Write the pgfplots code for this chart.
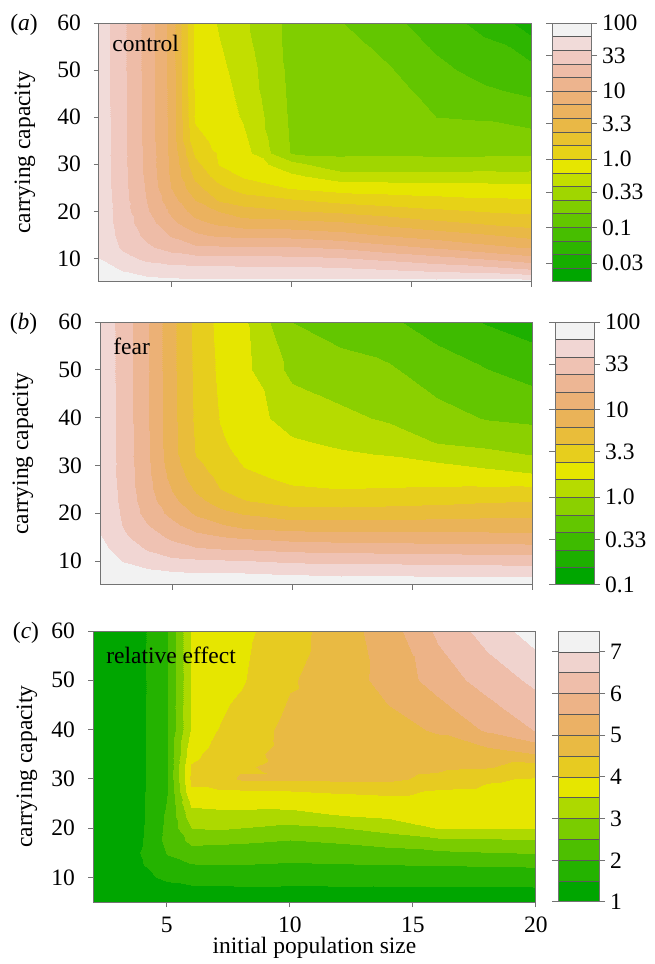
\documentclass[border=0pt]{standalone}
\usepackage{fontspec}
\setmainfont{Liberation Serif}
\usepackage{pgfplots}
\pgfplotsset{compat=1.18}

\pgfplotsset{
  colormap={terA}{rgb255=(0,166,0) rgb255=(22,174,0) rgb255=(45,182,0) rgb255=(71,190,0) rgb255=(99,198,0) rgb255=(128,206,0) rgb255=(160,214,0) rgb255=(194,222,0) rgb255=(230,230,0) rgb255=(231,210,23) rgb255=(232,195,46) rgb255=(233,184,70) rgb255=(235,178,94) rgb255=(236,177,118) rgb255=(237,180,142) rgb255=(238,188,167) rgb255=(240,201,192) rgb255=(241,219,217) rgb255=(242,242,242)},
  colormap={terB}{rgb255=(0,166,0) rgb255=(29,176,0) rgb255=(62,187,0) rgb255=(99,198,0) rgb255=(139,208,0) rgb255=(182,219,0) rgb255=(230,230,0) rgb255=(231,206,29) rgb255=(233,189,58) rgb255=(234,179,88) rgb255=(236,177,118) rgb255=(237,182,148) rgb255=(239,194,179) rgb255=(241,214,211) rgb255=(242,242,242)},
  colormap={terC}{rgb255=(0,166,0) rgb255=(36,179,0) rgb255=(77,191,0) rgb255=(122,204,0) rgb255=(173,217,0) rgb255=(230,230,0) rgb255=(231,203,33) rgb255=(233,186,67) rgb255=(235,177,101) rgb255=(237,179,135) rgb255=(239,190,170) rgb255=(240,211,206) rgb255=(242,242,242)},
  panel/.style={
    view={0}{90},
    scale only axis,
    xmin=2, xmax=20, ymin=5, ymax=60,
    enlargelimits=false,
    clip=false,
    xtick={5,10,15,20},
    ytick={10,20,30,40,50,60},
    yticklabels={10,20,30,40,50,60},
    xticklabels={},
    tick align=outside,
    tick pos=left,
    major tick length=2.5pt,
    axis line style={draw=black!55, line width=0.5pt},
    tick style={draw=black!55, line width=0.5pt},
    yticklabel style={xshift=-3pt},
    xticklabel style={yshift=-1.5pt},
    ylabel={carrying capacity},
    colorbar,
  },
  cbar/.style={
    at={(parent axis.north east)}, anchor=north west,
    axis line style={draw=black!55, line width=0.5pt},
    tick style={draw=black!55, line width=0.5pt},
    major tick length=3pt, tick align=outside,
    yticklabel style={xshift=-1pt},
    extra y tick labels={},
    extra y tick style={major tick length=0pt, grid=major,
      major grid style={draw=black!65, line width=0.35pt}},
    axis on top,
  },
}

\begin{document}
\begin{tikzpicture}[font=\fontsize{11.75}{14}\selectfont]

% (a) control
\begin{axis}[panel, at={(49.5pt,341pt)}, anchor=south west,
  width=216.5pt, height=129.5pt,
  colormap name=terA, point meta min=-1.8, point meta max=2,
  ylabel style={at={(axis description cs:-0.171,0.5)}, anchor=center},
  colorbar style={cbar, xshift=1.5pt, width=19.5pt,
    ytick={2,1.5185,1,0.5185,0,-0.4815,-1,-1.5229},
    yticklabels={100,33,10,3.3,1.0,0.33,0.1,0.03},
    extra y ticks={-1.6,-1.4,-1.2,-1,-0.8,-0.6,-0.4,-0.2,0,0.2,0.4,0.6,0.8,1,1.2,1.4,1.6,1.8}}]
\addplot3[contour filled={number=19}, mesh/cols=13] coordinates {
(2,5,1.95) (3,5,1.90) (4,5,1.88) (5,5,1.86) (6,5,1.85) (7,5,1.85) (8,5,1.85) (10,5,1.85) (12,5,1.86) (14,5,1.87) (16,5,1.88) (18,5,1.90) (20,5,1.90)
(2,7.5,1.88) (3,7.5,1.79) (4,7.5,1.71) (5,7.5,1.69) (6,7.5,1.68) (7,7.5,1.68) (8,7.5,1.67) (10,7.5,1.67) (12,7.5,1.65) (14,7.5,1.61) (16,7.5,1.56) (18,7.5,1.51) (20,7.5,1.42)
(2,10,1.80) (3,10,1.66) (4,10,1.55) (5,10,1.49) (6,10,1.46) (7,10,1.46) (8,10,1.45) (10,10,1.44) (12,10,1.41) (14,10,1.34) (16,10,1.26) (18,10,1.17) (20,10,1.06)
(2,12.5,1.77) (3,12.5,1.56) (4,12.5,1.43) (5,12.5,1.32) (6,12.5,1.23) (7,12.5,1.22) (8,12.5,1.22) (10,12.5,1.21) (12,12.5,1.16) (14,12.5,1.06) (16,12.5,0.97) (18,12.5,0.86) (20,12.5,0.77)
(2,15,1.76) (3,15,1.52) (4,15,1.35) (5,15,1.18) (6,15,1.04) (7,15,0.96) (8,15,0.95) (10,15,0.93) (12,15,0.87) (14,15,0.78) (16,15,0.70) (18,15,0.62) (20,15,0.53)
(2,17.5,1.75) (3,17.5,1.49) (4,17.5,1.29) (5,17.5,1.05) (6,17.5,0.86) (7,17.5,0.76) (8,17.5,0.69) (10,17.5,0.67) (12,17.5,0.63) (14,17.5,0.54) (16,17.5,0.45) (18,17.5,0.38) (20,17.5,0.32)
(2,20,1.75) (3,20,1.48) (4,20,1.22) (5,20,0.96) (6,20,0.72) (7,20,0.59) (8,20,0.48) (10,20,0.41) (12,20,0.36) (14,20,0.30) (16,20,0.24) (18,20,0.19) (20,20,0.16)
(2,22.5,1.75) (3,22.5,1.47) (4,22.5,1.19) (5,22.5,0.88) (6,22.5,0.60) (7,22.5,0.38) (8,22.5,0.30) (10,22.5,0.22) (12,22.5,0.14) (14,22.5,0.09) (16,22.5,0.06) (18,22.5,0.03) (20,22.5,0.02)
(2,25,1.74) (3,25,1.46) (4,25,1.17) (5,25,0.80) (6,25,0.47) (7,25,0.25) (8,25,0.11) (10,25,-0.01) (12,25,-0.08) (14,25,-0.09) (16,25,-0.11) (18,25,-0.12) (20,25,-0.13)
(2,27.5,1.74) (3,27.5,1.46) (4,27.5,1.15) (5,27.5,0.77) (6,27.5,0.35) (7,27.5,0.11) (8,27.5,-0.02) (10,27.5,-0.16) (12,27.5,-0.30) (14,27.5,-0.31) (16,27.5,-0.31) (18,27.5,-0.31) (20,27.5,-0.32)
(2,30,1.74) (3,30,1.45) (4,30,1.14) (5,30,0.76) (6,30,0.26) (7,30,-0.01) (8,30,-0.06) (10,30,-0.33) (12,30,-0.55) (14,30,-0.54) (16,30,-0.53) (18,30,-0.52) (20,30,-0.51)
(2,32.5,1.73) (3,32.5,1.45) (4,32.5,1.14) (5,32.5,0.75) (6,32.5,0.16) (7,32.5,-0.02) (8,32.5,-0.11) (10,32.5,-0.61) (12,32.5,-0.62) (14,32.5,-0.62) (16,32.5,-0.63) (18,32.5,-0.63) (20,32.5,-0.63)
(2,35,1.73) (3,35,1.45) (4,35,1.13) (5,35,0.74) (6,35,0.05) (7,35,-0.04) (8,35,-0.15) (10,35,-0.62) (12,35,-0.64) (14,35,-0.64) (16,35,-0.69) (18,35,-0.69) (20,35,-0.69)
(2,40,1.73) (3,40,1.45) (4,40,1.13) (5,40,0.74) (6,40,-0.02) (7,40,-0.08) (8,40,-0.22) (10,40,-0.63) (12,40,-0.68) (14,40,-0.69) (16,40,-0.80) (18,40,-0.82) (20,40,-0.90)
(2,50,1.72) (3,50,1.44) (4,50,1.12) (5,50,0.73) (6,50,-0.04) (7,50,-0.15) (8,50,-0.29) (10,50,-0.65) (12,50,-0.74) (14,50,-0.78) (16,50,-0.94) (18,50,-1.08) (20,50,-1.14)
(2,60,1.72) (3,60,1.44) (4,60,1.12) (5,60,0.72) (6,60,-0.05) (7,60,-0.22) (8,60,-0.36) (10,60,-0.66) (12,60,-0.79) (14,60,-0.93) (16,60,-1.12) (18,60,-1.25) (20,60,-1.50)
};
\node[anchor=north west, inner sep=0pt, xshift=6.5pt, yshift=-6pt] at (axis description cs:0,1) {control};
\end{axis}

% (b) fear
\begin{axis}[panel, at={(50pt,189.5pt)}, anchor=south west,
  width=216.5pt, height=131.5pt,
  colormap name=terB, point meta min=-1, point meta max=2,
  ylabel style={at={(axis description cs:-0.178,0.5)}, anchor=center},
  colorbar style={cbar, xshift=2.5pt, width=19.5pt,
    ytick={2,1.5185,1,0.5185,0,-0.4815,-1},
    yticklabels={100,33,10,3.3,1.0,0.33,0.1},
    extra y ticks={-0.8,-0.6,-0.4,-0.2,0,0.2,0.4,0.6,0.8,1,1.2,1.4,1.6,1.8}}]
\addplot3[contour filled={number=15}, mesh/cols=13] coordinates {
(2,5,1.97) (3,5,1.93) (4,5,1.90) (5,5,1.90) (6,5,1.90) (7,5,1.90) (8,5,1.90) (10,5,1.92) (12,5,1.92) (14,5,1.93) (16,5,1.93) (18,5,1.94) (20,5,1.95)
(2,7.5,1.93) (3,7.5,1.87) (4,7.5,1.85) (5,7.5,1.82) (6,7.5,1.81) (7,7.5,1.80) (8,7.5,1.80) (10,7.5,1.78) (12,7.5,1.76) (14,7.5,1.76) (16,7.5,1.75) (18,7.5,1.74) (20,7.5,1.74)
(2,10,1.88) (3,10,1.79) (4,10,1.71) (5,10,1.64) (6,10,1.63) (7,10,1.62) (8,10,1.61) (10,10,1.57) (12,10,1.55) (14,10,1.55) (16,10,1.54) (18,10,1.53) (20,10,1.52)
(2,12.5,1.85) (3,12.5,1.72) (4,12.5,1.58) (5,12.5,1.49) (6,12.5,1.42) (7,12.5,1.40) (8,12.5,1.39) (10,12.5,1.35) (12,12.5,1.33) (14,12.5,1.32) (16,12.5,1.31) (18,12.5,1.29) (20,12.5,1.29)
(2,15,1.81) (3,15,1.63) (4,15,1.49) (5,15,1.36) (6,15,1.27) (7,15,1.21) (8,15,1.17) (10,15,1.12) (12,15,1.10) (14,15,1.09) (16,15,1.08) (18,15,1.08) (20,15,1.07)
(2,17.5,1.79) (3,17.5,1.58) (4,17.5,1.40) (5,17.5,1.25) (6,17.5,1.10) (7,17.5,1.02) (8,17.5,0.93) (10,17.5,0.89) (12,17.5,0.89) (14,17.5,0.89) (16,17.5,0.89) (18,17.5,0.89) (20,17.5,0.89)
(2,20,1.78) (3,20,1.56) (4,20,1.32) (5,20,1.14) (6,20,0.97) (7,20,0.85) (8,20,0.78) (10,20,0.68) (12,20,0.68) (14,20,0.70) (16,20,0.72) (18,20,0.74) (20,20,0.74)
(2,22.5,1.77) (3,22.5,1.54) (4,22.5,1.28) (5,22.5,1.05) (6,22.5,0.86) (7,22.5,0.72) (8,22.5,0.61) (10,22.5,0.53) (12,22.5,0.52) (14,22.5,0.53) (16,22.5,0.55) (18,22.5,0.58) (20,22.5,0.60)
(2,25,1.77) (3,25,1.53) (4,25,1.25) (5,25,0.99) (6,25,0.77) (7,25,0.60) (8,25,0.52) (10,25,0.42) (12,25,0.40) (14,25,0.41) (16,25,0.42) (18,25,0.43) (20,25,0.44)
(2,27.5,1.76) (3,27.5,1.52) (4,27.5,1.24) (5,27.5,0.93) (6,27.5,0.70) (7,27.5,0.56) (8,27.5,0.44) (10,27.5,0.36) (12,27.5,0.34) (14,27.5,0.33) (16,27.5,0.32) (18,27.5,0.29) (20,27.5,0.24)
(2,30,1.76) (3,30,1.52) (4,30,1.23) (5,30,0.89) (6,30,0.64) (7,30,0.52) (8,30,0.39) (10,30,0.32) (12,30,0.27) (14,30,0.26) (16,30,0.23) (18,30,0.17) (20,30,0.11)
(2,32.5,1.76) (3,32.5,1.51) (4,32.5,1.22) (5,32.5,0.87) (6,32.5,0.59) (7,32.5,0.47) (8,32.5,0.35) (10,32.5,0.27) (12,32.5,0.22) (14,32.5,0.19) (16,32.5,0.11) (18,32.5,0.05) (20,32.5,-0.01)
(2,35,1.76) (3,35,1.51) (4,35,1.22) (5,35,0.86) (6,35,0.58) (7,35,0.43) (8,35,0.32) (10,35,0.22) (12,35,0.17) (14,35,0.12) (16,35,-0.01) (18,35,-0.05) (20,35,-0.09)
(2,40,1.76) (3,40,1.51) (4,40,1.21) (5,40,0.86) (6,40,0.56) (7,40,0.39) (8,40,0.28) (10,40,0.13) (12,40,0.05) (14,40,-0.03) (16,40,-0.12) (18,40,-0.21) (20,40,-0.24)
(2,50,1.76) (3,50,1.50) (4,50,1.21) (5,50,0.85) (6,50,0.55) (7,50,0.36) (8,50,0.25) (10,50,-0.05) (12,50,-0.13) (14,50,-0.17) (16,50,-0.31) (18,50,-0.39) (20,50,-0.48)
(2,60,1.76) (3,60,1.50) (4,60,1.21) (5,60,0.85) (6,60,0.54) (7,60,0.34) (8,60,0.23) (10,60,-0.20) (12,60,-0.28) (14,60,-0.37) (16,60,-0.48) (18,60,-0.61) (20,60,-0.69)
};
\node[anchor=north west, inner sep=0pt, xshift=6.5pt, yshift=-8pt] at (axis description cs:0,1) {fear};
\end{axis}

% (c) relative effect
\begin{axis}[panel, at={(46.5pt,31pt)}, anchor=south west,
  width=221.5pt, height=135.5pt,
  colormap name=terC, point meta min=1, point meta max=7.5,
  xticklabels={5,10,15,20},
  xlabel={initial population size},
  xlabel style={at={(axis description cs:0.5,0)}, anchor=center, yshift=-23pt},
  ylabel style={at={(axis description cs:-0.149,0.5)}, anchor=center},
  colorbar style={cbar, xshift=2.5pt, width=20.5pt,
    ytick={1,2,3,4,5,6,7},
    yticklabels={1,2,3,4,5,6,7},
    extra y ticks={1.5,2,2.5,3,3.5,4,4.5,5,5.5,6,6.5,7}}]
\addplot3[contour filled={number=13}, mesh/cols=13] coordinates {
(2,5,1.05) (3,5,1.10) (4,5,1.15) (5,5,1.20) (6,5,1.25) (7,5,1.25) (8,5,1.25) (10,5,1.30) (12,5,1.30) (14,5,1.30) (16,5,1.30) (18,5,1.28) (20,5,1.28)
(2,7.5,1.08) (3,7.5,1.20) (4,7.5,1.32) (5,7.5,1.38) (6,7.5,1.40) (7,7.5,1.42) (8,7.5,1.42) (10,7.5,1.42) (12,7.5,1.43) (14,7.5,1.42) (16,7.5,1.42) (18,7.5,1.42) (20,7.5,1.43)
(2,10,1.10) (3,10,1.25) (4,10,1.42) (5,10,1.57) (6,10,1.67) (7,10,1.68) (8,10,1.70) (10,10,1.65) (12,10,1.68) (14,10,1.69) (16,10,1.71) (18,10,1.72) (20,10,1.74)
(2,12.5,1.10) (3,12.5,1.30) (4,12.5,1.48) (5,12.5,1.85) (6,12.5,1.97) (7,12.5,1.99) (8,12.5,1.99) (10,12.5,1.94) (12,12.5,1.97) (14,12.5,1.99) (16,12.5,2.02) (18,12.5,2.03) (20,12.5,2.06)
(2,15,1.10) (3,15,1.32) (4,15,1.52) (5,15,2.03) (6,15,2.30) (7,15,2.28) (8,15,2.27) (10,15,2.22) (12,15,2.26) (14,15,2.35) (16,15,2.41) (18,15,2.47) (20,15,2.52)
(2,17.5,1.10) (3,17.5,1.30) (4,17.5,1.48) (5,17.5,2.15) (6,17.5,2.64) (7,17.5,2.61) (8,17.5,2.58) (10,17.5,2.50) (12,17.5,2.58) (14,17.5,2.69) (16,17.5,2.90) (18,17.5,2.94) (20,17.5,2.98)
(2,20,1.10) (3,20,1.28) (4,20,1.45) (5,20,2.12) (6,20,3.00) (7,20,3.07) (8,20,3.00) (10,20,2.88) (12,20,2.97) (14,20,3.22) (16,20,3.52) (18,20,3.52) (20,20,3.52)
(2,22.5,1.10) (3,22.5,1.27) (4,22.5,1.44) (5,22.5,2.08) (6,22.5,3.30) (7,22.5,3.34) (8,22.5,3.34) (10,22.5,3.30) (12,22.5,3.48) (14,22.5,3.57) (16,22.5,3.66) (18,22.5,3.64) (20,22.5,3.63)
(2,25,1.10) (3,25,1.25) (4,25,1.44) (5,25,2.02) (6,25,3.60) (7,25,3.64) (8,25,3.66) (10,25,3.68) (12,25,3.76) (14,25,3.80) (16,25,3.81) (18,25,3.77) (20,25,3.74)
(2,27.5,1.10) (3,27.5,1.25) (4,27.5,1.43) (5,27.5,1.99) (6,27.5,3.95) (7,27.5,3.95) (8,27.5,3.97) (10,27.5,4.00) (12,27.5,4.06) (14,27.5,4.12) (16,27.5,3.95) (18,27.5,3.89) (20,27.5,3.84)
(2,30,1.10) (3,30,1.25) (4,30,1.43) (5,30,1.98) (6,30,4.10) (7,30,4.25) (8,30,4.55) (10,30,4.55) (12,30,4.60) (14,30,4.60) (16,30,4.36) (18,30,4.06) (20,30,3.95)
(2,32.5,1.10) (3,32.5,1.25) (4,32.5,1.43) (5,32.5,1.97) (6,32.5,4.05) (7,32.5,4.30) (8,32.5,4.45) (10,32.5,4.62) (12,32.5,4.68) (14,32.5,4.70) (16,32.5,4.61) (18,32.5,4.54) (20,32.5,4.27)
(2,35,1.10) (3,35,1.25) (4,35,1.43) (5,35,1.96) (6,35,3.85) (7,35,4.20) (8,35,4.35) (10,35,4.66) (12,35,4.72) (14,35,4.76) (16,35,4.75) (18,35,4.78) (20,35,5.00)
(2,40,1.10) (3,40,1.25) (4,40,1.43) (5,40,1.95) (6,40,3.55) (7,40,3.99) (8,40,4.20) (10,40,4.65) (12,40,4.75) (14,40,4.85) (16,40,5.05) (18,40,5.57) (20,40,6.03)
(2,50,1.10) (3,50,1.25) (4,50,1.42) (5,50,1.95) (6,50,3.52) (7,50,3.80) (8,50,3.95) (10,50,4.45) (12,50,4.77) (14,50,5.15) (16,50,5.73) (18,50,6.21) (20,50,6.62)
(2,60,1.10) (3,60,1.25) (4,60,1.42) (5,60,1.95) (6,60,3.52) (7,60,3.70) (8,60,3.87) (10,60,4.31) (12,60,4.75) (14,60,5.26) (16,60,6.10) (18,60,6.71) (20,60,7.25)
};
\node[anchor=north west, inner sep=0pt, xshift=6.5pt, yshift=-8pt] at (axis description cs:0,1) {relative effect};
\end{axis}

\node[anchor=base, inner sep=0pt] at (12pt,466.5pt) {(\textit{a})};
\node[anchor=base, inner sep=0pt] at (11.75pt,317pt) {(\textit{b})};
\node[anchor=base, inner sep=0pt] at (13pt,162.5pt) {(\textit{c})};

\pgfresetboundingbox
\path[use as bounding box] (0,0) rectangle (327pt,482pt);
\end{tikzpicture}
\end{document}
